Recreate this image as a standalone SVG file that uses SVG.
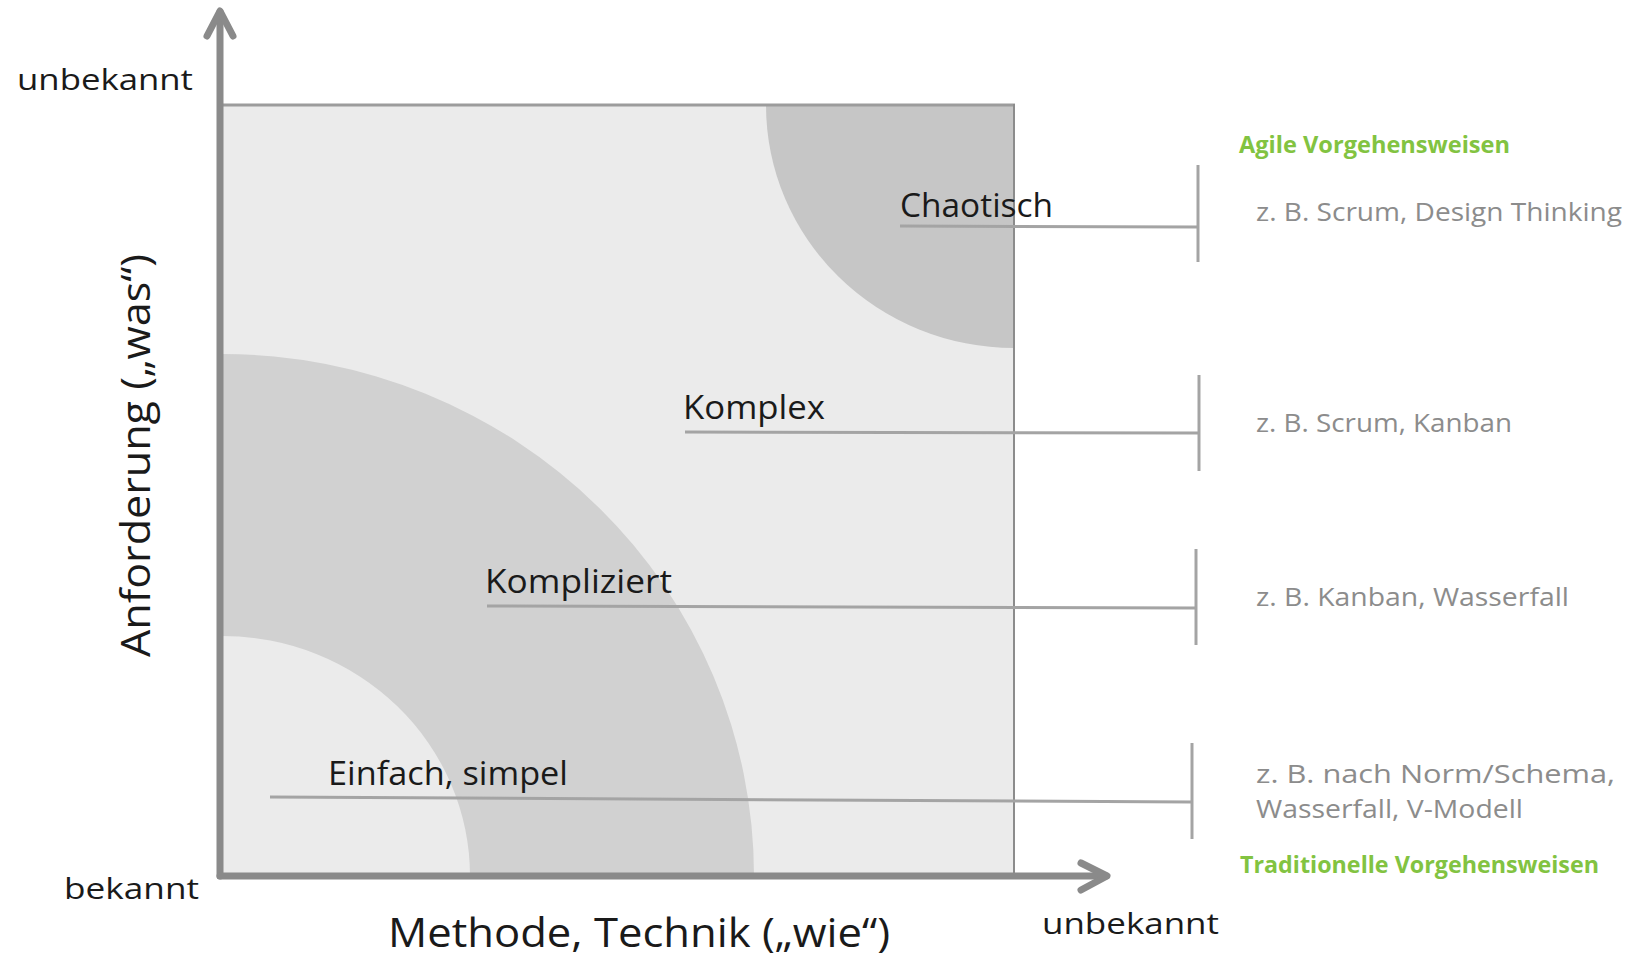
<svg xmlns="http://www.w3.org/2000/svg" width="1627" height="957" viewBox="0 0 1627 957">
  <style>
    .lbl { font-family: "Open Sans", "Noto Sans", "Liberation Sans", sans-serif; fill: #1a1a1a; font-weight: 500; }
    .node { font-size: 32px; }
    .axis-end { font-size: 30px; }
    .axis-title { font-size: 40px; }
    .example { font-family: "Open Sans", "Noto Sans", "Liberation Sans", sans-serif; font-size: 25px; fill: #8c8c8c; }
    .group-title { font-family: "Open Sans", "Noto Sans", "Liberation Sans", sans-serif; font-size: 23px; font-weight: bold; fill: #82c341; }
    .link { fill: none; stroke: #a4a4a4; stroke-width: 3; }
    .axis { fill: none; stroke: #8a8a8a; stroke-width: 7; stroke-linecap: round; stroke-linejoin: round; }
  </style>

  <rect width="1627" height="957" fill="#ffffff"/>

  <!-- domain field -->
  <g id="field">
    <rect x="220" y="105" width="794" height="771" fill="#ebebeb"/>
    <!-- band between simple and complicated -->
    <path d="M 222 354 A 532 522 0 0 1 754 876 L 470 876 A 248 240 0 0 0 222 636 Z" fill="#d1d1d1"/>
    <!-- chaotic corner -->
    <path d="M 766 105 A 248 243 0 0 0 1014 348 L 1014 105 Z" fill="#c6c6c6"/>
    <line x1="220" y1="105" x2="1015" y2="105" stroke="#9c9c9c" stroke-width="3"/>
    <line x1="1014" y1="104" x2="1014" y2="876" stroke="#8c8c8c" stroke-width="2"/>
  </g>

  <!-- connectors: label underline leading to a bracket -->
  <g id="connectors">
    <polyline class="link" points="900,226 1198,227"/>
    <line class="link" x1="1198" y1="165" x2="1198" y2="262"/>
    <polyline class="link" points="685,432 1199,433"/>
    <line class="link" x1="1199" y1="375" x2="1199" y2="471"/>
    <polyline class="link" points="487,606 1196,608"/>
    <line class="link" x1="1196" y1="549" x2="1196" y2="645"/>
    <polyline class="link" points="270,797 1192,802"/>
    <line class="link" x1="1192" y1="743" x2="1192" y2="839"/>
  </g>

  <!-- axes -->
  <g id="axes">
    <line class="axis" x1="220" y1="12" x2="220" y2="876"/>
    <polyline class="axis" points="207,36 220,11 233,36"/>
    <line class="axis" x1="220" y1="876" x2="1106" y2="876"/>
    <polyline class="axis" points="1081,863 1107,876 1081,890"/>
  </g>

  <g id="axis-labels">
    <text class="lbl axis-end" x="17" y="90" textLength="176" lengthAdjust="spacingAndGlyphs">unbekannt</text>
    <text class="lbl axis-end" x="64" y="899" textLength="135" lengthAdjust="spacingAndGlyphs">bekannt</text>
    <text class="lbl axis-end" x="1042" y="934" textLength="177" lengthAdjust="spacingAndGlyphs">unbekannt</text>
    <text class="lbl axis-title" x="388" y="947" textLength="502" lengthAdjust="spacingAndGlyphs">Methode, Technik („wie“)</text>
    <text class="lbl axis-title" transform="translate(150 657) rotate(-90)" x="0" y="0" textLength="403" lengthAdjust="spacingAndGlyphs">Anforderung („was“)</text>
  </g>

  <g id="node-chaotisch">
    <text class="lbl node" x="900" y="217" textLength="153" lengthAdjust="spacingAndGlyphs">Chaotisch</text>
  </g>
  <g id="node-komplex">
    <text class="lbl node" x="683" y="419" textLength="142" lengthAdjust="spacingAndGlyphs">Komplex</text>
  </g>
  <g id="node-kompliziert">
    <text class="lbl node" x="485" y="593" textLength="187" lengthAdjust="spacingAndGlyphs">Kompliziert</text>
  </g>
  <g id="node-einfach">
    <text class="lbl node" x="328" y="785" textLength="240" lengthAdjust="spacingAndGlyphs">Einfach, simpel</text>
  </g>

  <g id="examples">
    <text class="group-title" x="1239" y="153" textLength="271" lengthAdjust="spacingAndGlyphs">Agile Vorgehensweisen</text>
    <text class="example" x="1256" y="221" textLength="366" lengthAdjust="spacingAndGlyphs">z. B. Scrum, Design Thinking</text>
    <text class="example" x="1256" y="432" textLength="256" lengthAdjust="spacingAndGlyphs">z. B. Scrum, Kanban</text>
    <text class="example" x="1256" y="606" textLength="313" lengthAdjust="spacingAndGlyphs">z. B. Kanban, Wasserfall</text>
    <text class="example" x="1256" y="783" textLength="359" lengthAdjust="spacingAndGlyphs">z. B. nach Norm/Schema,</text>
    <text class="example" x="1256" y="818" textLength="267" lengthAdjust="spacingAndGlyphs">Wasserfall, V-Modell</text>
    <text class="group-title" x="1240" y="873" textLength="359" lengthAdjust="spacingAndGlyphs">Traditionelle Vorgehensweisen</text>
  </g>
</svg>
